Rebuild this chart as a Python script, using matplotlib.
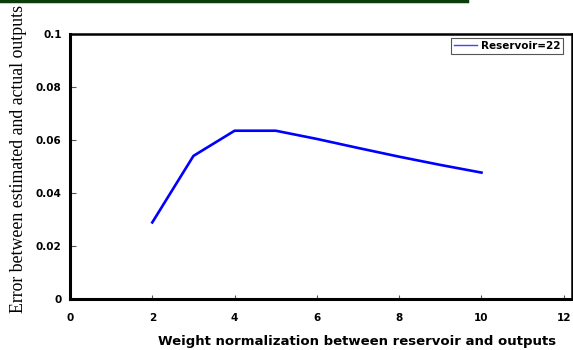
"""Error between estimated and actual outputs vs. weight normalization."""

import matplotlib.pyplot as plt
from matplotlib.lines import Line2D

# data
weight_norm = [2, 3, 4, 5, 6, 7, 8, 9, 10]
error = [0.0289, 0.0540, 0.0635, 0.0635, 0.0604, 0.0570, 0.0537, 0.0506, 0.0477]
series_label = "Reservoir=22"

x_ticks = [0, 2, 4, 6, 8, 10, 12]
x_tick_labels = ["0", "2", "4", "6", "8", "10", "12"]
y_ticks = [0, 0.02, 0.04, 0.06, 0.08, 0.1]
y_tick_labels = ["0", "0.02", "0.04", "0.06", "0.08", "0.1"]


def main() -> None:
    fig = plt.figure(figsize=(5.73, 3.5), dpi=100)
    ax = fig.add_axes([70 / 573, 1 - 299 / 350, 502 / 573, 265 / 350])

    # dark green rule along the top of the image
    fig.add_artist(Line2D([0, 467 / 573], [0.997, 0.997], color="#0b3d0b",
                          linewidth=2.5, transform=fig.transFigure))

    ax.plot(weight_norm, error, color="#0000ff", linewidth=1.9, label=series_label)

    ax.set_xlim(0, 12.2)
    ax.set_ylim(0, 0.1)
    ax.set_xticks(x_ticks)
    ax.set_xticklabels(x_tick_labels)
    ax.set_yticks(y_ticks)
    ax.set_yticklabels(y_tick_labels)

    for lab in ax.get_xticklabels() + ax.get_yticklabels():
        lab.set_fontweight("bold")
        lab.set_fontsize(7.5)

    ax.tick_params(axis="x", direction="in", length=3, width=0.8, pad=10,
                   color="#555555")
    ax.tick_params(axis="y", direction="in", length=4, width=0.8, pad=6,
                   color="#555555")

    for side in ["left", "bottom"]:
        ax.spines[side].set_linewidth(2.2)
    for side in ["top", "right"]:
        ax.spines[side].set_linewidth(1.8)

    ax.set_xlabel("Weight normalization between reservoir and outputs",
                  fontsize=9.5, fontweight="bold")
    ax.xaxis.set_label_coords(0.572, -0.135)
    ax.set_ylabel("Error between estimated and actual outputs",
                  fontsize=12.8, family="Liberation Serif")
    ax.yaxis.set_label_coords(-0.086, 0.53)

    leg = ax.legend(loc="upper right", bbox_to_anchor=(0.983, 0.985),
                    fancybox=False, framealpha=1, edgecolor="#555555",
                    prop={"weight": "bold", "size": 7.5},
                    handlelength=2.2, handletextpad=0.4, borderpad=0.3,
                    borderaxespad=0)
    leg.get_frame().set_linewidth(0.8)
    leg.get_lines()[0].set_color("#4444ff")
    leg.get_lines()[0].set_linewidth(1.0)

    fig.savefig("out.png", dpi=100)
    plt.close(fig)


if __name__ == "__main__":
    main()
